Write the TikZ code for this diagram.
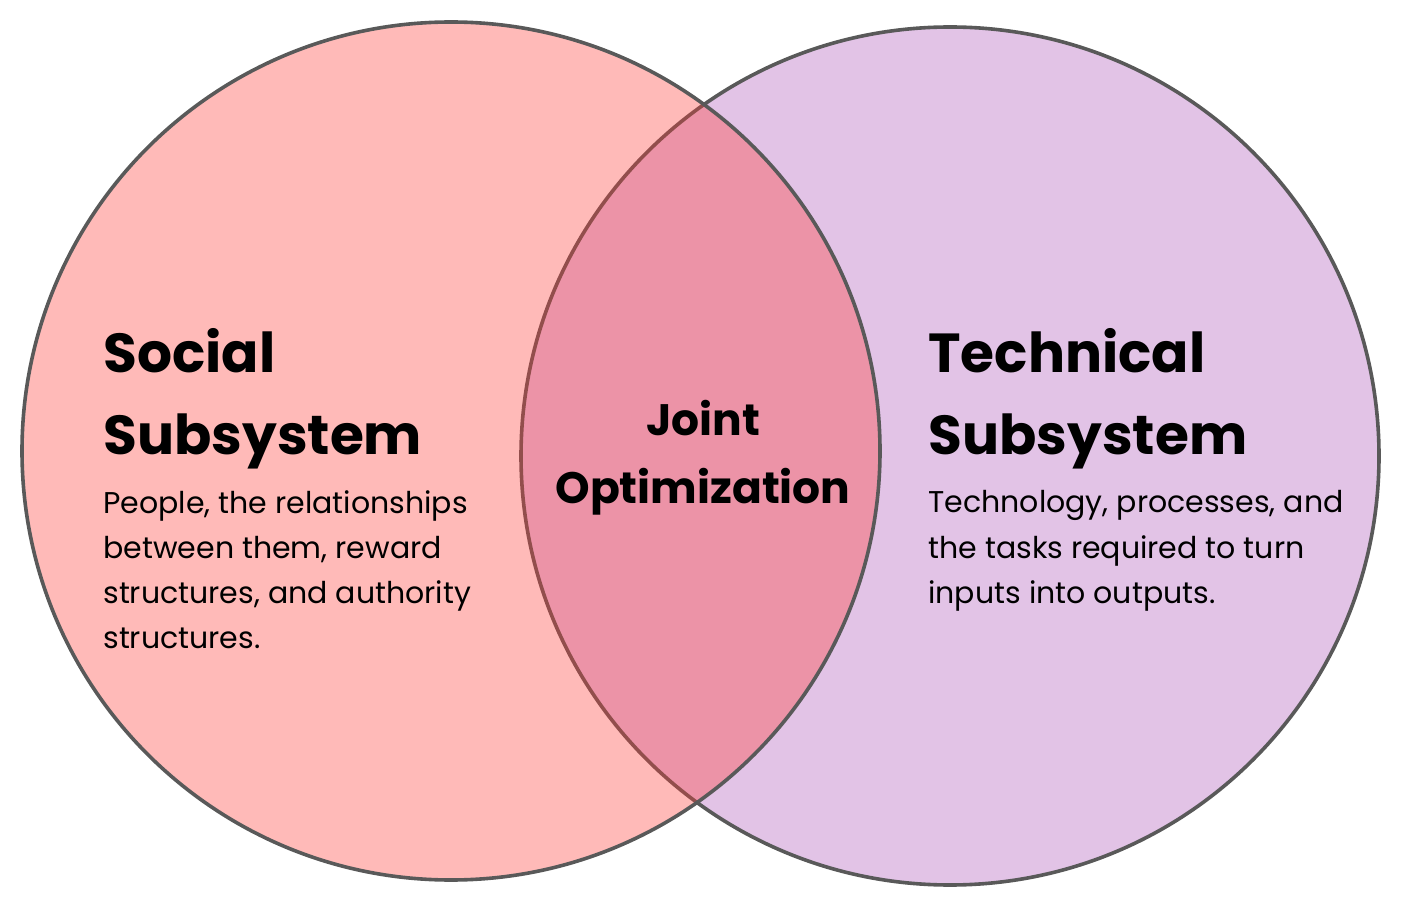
\documentclass[tikz,border=0pt]{standalone}
\usepackage{fontspec}
\setmainfont{Poppins}
\usetikzlibrary{positioning}
\definecolor{socialred}{RGB}{255,58,52}
\definecolor{techpurple}{RGB}{226,195,230}
\definecolor{rimgray}{RGB}{89,89,89}

\begin{document}
\begin{tikzpicture}[
  x=0.5pt, y=-0.5pt,
  setcircle/.style={
    circle,
    draw=rimgray,
    line width=1.8pt,
    minimum size=429pt,
    inner sep=0pt
  },
  heading/.style={
    anchor=base west,
    align=left,
    inner sep=0pt,
    font=\fontsize{27.5}{41}\selectfont\bfseries
  },
  jointlabel/.style={
    anchor=base,
    align=center,
    inner sep=0pt,
    font=\fontsize{22}{34}\selectfont\bfseries
  },
  desc/.style={
    anchor=base west,
    align=left,
    inner sep=0pt,
    font=\fontsize{15}{22.5}\selectfont
  }
]
\useasboundingbox (0,0) rectangle (1407,908);

% Technical subsystem (drawn first, lies underneath)
\node[setcircle, fill=techpurple] (tech) at (950,456) {};

% Social subsystem (translucent, on top)
\node[setcircle, fill=socialred, fill opacity=0.35, draw opacity=1] (social) at (451,451) {};

% Left texts (anchored at the last line)
\node[heading] (socialhead) at (103,455) {Social\\Subsystem};
\node[desc] (socialdesc) at (103,648) {People, the relationships\\between them, reward\\structures, and authority\\structures.};

% Overlap
\node[jointlabel] (joint) at (703,503) {Joint\\Optimization};

% Right texts
\node[heading] (techhead) at (928,455) {Technical\\Subsystem};
\node[desc] (techdesc) at (928,603) {Technology, processes, and\\the tasks required to turn\\inputs into outputs.};

\end{tikzpicture}
\end{document}
